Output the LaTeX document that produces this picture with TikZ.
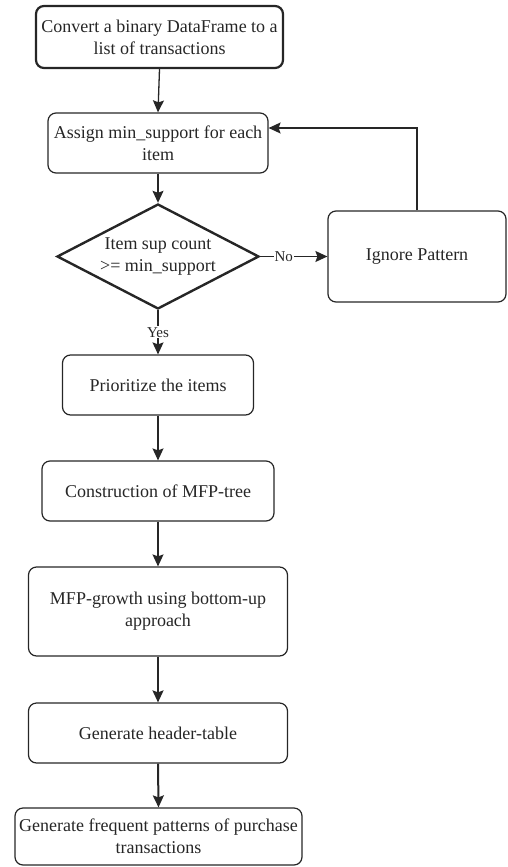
\documentclass[tikz,border=0pt]{standalone}
\usepackage{fontspec}
\setmainfont{Liberation Serif}
\usetikzlibrary{shapes.geometric,arrows.meta}
\begin{document}
\begin{tikzpicture}[x=1pt,y=1pt,
  stepbox/.style={draw=black!85, line width=1.2pt, rounded corners=8pt, align=center,
    inner sep=0pt, font=\fontsize{18}{22}\selectfont, text=black!85},
  thickbox/.style={stepbox, line width=2.2pt},
  lbl/.style={fill=white, inner sep=1pt, font=\fontsize{15}{18}\selectfont, text=black!85},
  arr/.style={draw=black!85, line width=1.3pt, -{Stealth[length=12pt,width=11pt,inset=2pt]}},
  thickarr/.style={arr, line width=2pt}
]
\useasboundingbox (0,0) rectangle (507,-867);
\node[thickbox, minimum width=247, minimum height=62] (b1) at (159.5,-37) {Convert a binary DataFrame to a\\list of transactions};
\node[stepbox, minimum width=220, minimum height=60] (b2) at (158,-143) {Assign min\_support for each\\item};
\node[diamond, draw=black!85, line width=2.4pt, minimum width=202, minimum height=105, aspect=1.92, inner sep=0pt] (d) at (158,-256.5) {};
\node[align=center, font=\fontsize{18}{22}\selectfont, text=black!85] (dt) at (158,-256.5) {Item sup count\\>= min\_support};
\node[stepbox, minimum width=178, minimum height=91] (ign) at (417,-256.5) {Ignore Pattern};
\node[stepbox, minimum width=191, minimum height=60] (b3) at (158,-385) {Prioritize the items};
\node[stepbox, minimum width=232, minimum height=60] (b4) at (158,-491) {Construction of MFP-tree};
\node[stepbox, minimum width=259, minimum height=89] (b5) at (158,-611.5) {MFP-growth using bottom-up\\approach};
\node[stepbox, minimum width=259, minimum height=60] (b6) at (158,-733) {Generate header-table};
\node[stepbox, minimum width=287, minimum height=57] (b7) at (158.5,-836.5) {Generate frequent patterns of purchase\\transactions};

\draw[arr] (b1.south) -- (b2.north);
\draw[arr] (b2.south) -- (d.north);
\draw[arr] (d.east) -- node[lbl, pos=0.35] {No} (ign.west);
\draw[arr] (ign.north) |- ([yshift=15pt]b2.east);
\draw[arr] (d.south) -- node[lbl, pos=0.5] {Yes} (b3.north);
\draw[arr] (b3.south) -- (b4.north);
\draw[arr] (b4.south) -- (b5.north);
\draw[thickarr] (b5.south) -- (b6.north);
\draw[thickarr] (b6.south) -- (b7.north);
\end{tikzpicture}
\end{document}
